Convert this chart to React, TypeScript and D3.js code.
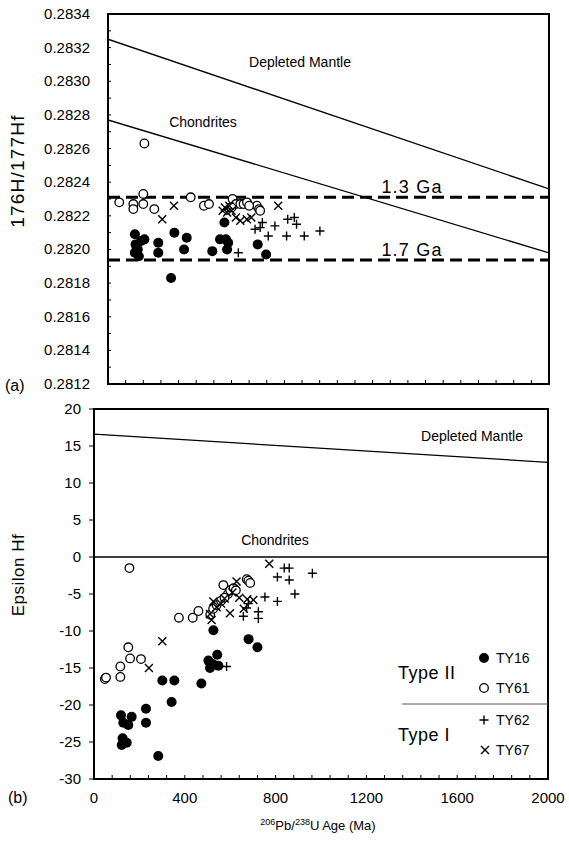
import React from 'react';
import { scaleLinear, line, range } from 'd3';

// ---- data ----
const lineAges = [0, 2000];
const depletedMantleRatio = [0.28325, 0.28236];
const chondriteRatio = [0.28277, 0.28198];
const depletedMantleEps = [16.6, 12.8];
const chondriteEps = [0, 0];
const modelAgeRatios = [0.28231, 0.281937];
const modelAgeLabels = ['1.3 Ga', '1.7 Ga'];

const ratioTicks = [0.2812, 0.2814, 0.2816, 0.2818, 0.282, 0.2822, 0.2824, 0.2826, 0.2828, 0.283, 0.2832, 0.2834];
const epsTicks = [20, 15, 10, 5, 0, -5, -10, -15, -20, -25, -30];
const ageTicks = [0, 400, 800, 1200, 1600, 2000];

const topTY16 = [[122, 0.28209], [125, 0.28203], [122, 0.28198], [135, 0.282], [140, 0.28196], [150, 0.28205], [165, 0.28206], [130, 0.28201],
  [228, 0.28204], [228, 0.28198], [286, 0.28183], [301, 0.2821], [345, 0.282], [357, 0.28207], [473, 0.28199], [508, 0.28206],
  [528, 0.28216], [535, 0.28206], [545, 0.28204], [540, 0.282], [679, 0.28203], [717, 0.28197]];
const topTY61 = [[51, 0.28228], [115, 0.28227], [115, 0.28224], [160, 0.28233], [160, 0.28227], [165, 0.28263], [210, 0.28224],
  [375, 0.28231], [435, 0.28226], [458, 0.28227], [565, 0.2823], [580, 0.28227], [600, 0.28227], [615, 0.28227], [630, 0.28228],
  [675, 0.28226], [685, 0.28224], [690, 0.28223], [560, 0.28225], [640, 0.28226]];
const topTY62 = [[591, 0.28198], [667, 0.28212], [690, 0.28213], [727, 0.28208], [757, 0.28214], [810, 0.28208], [815, 0.28218],
  [845, 0.28219], [855, 0.28215], [890, 0.28208], [961, 0.28211], [700, 0.28216]];
const topTY67 = [[246, 0.28218], [299, 0.28226], [520, 0.28223], [530, 0.28225], [550, 0.28226], [560, 0.28223], [580, 0.28219],
  [600, 0.28217], [630, 0.28218], [650, 0.28219], [772, 0.28226], [540, 0.28222]];

const botTY16 = [[119, -21.4], [129, -22.4], [151, -22.7], [166, -21.6], [126, -24.5], [122, -25.4], [144, -25.1], [229, -20.5],
  [229, -22.4], [283, -26.9], [301, -16.7], [354, -16.7], [342, -19.6], [473, -17.1], [504, -14.0], [511, -15.0], [526, -9.9],
  [543, -13.2], [548, -14.7], [525, -14.5], [681, -11.1], [720, -12.2]];
const botTY61 = [[48, -16.5], [53, -16.3], [116, -16.2], [116, -14.8], [151, -12.2], [156, -1.5], [159, -13.7], [207, -13.8],
  [374, -8.2], [435, -8.2], [460, -7.3], [512, -7.8], [525, -7.0], [540, -6.5], [560, -5.9], [570, -3.8], [590, -5.0], [600, -4.5],
  [615, -4.2], [625, -4.5], [673, -3.0], [680, -3.2], [688, -3.5], [575, -5.5]];
const botTY62 = [[584, -14.8], [658, -8.0], [672, -6.9], [680, -6.3], [724, -7.4], [724, -8.3], [753, -5.4], [808, -2.7],
  [808, -6.0], [838, -1.5], [860, -1.5], [860, -3.1], [885, -5.0], [962, -2.2]];
const botTY67 = [[242, -15.0], [301, -11.4], [511, -7.7], [518, -8.5], [526, -6.0], [540, -6.8], [560, -6.3], [575, -5.6],
  [599, -7.6], [610, -4.8], [628, -3.3], [640, -5.5], [675, -5.7], [702, -5.8], [772, -0.9], [660, -7.0]];

const FONT = 'Liberation Sans, Arial, sans-serif';

// ---- layout ----
const top = { x0: 108, x1: 549, y0: 14, y1: 384 };
const bot = { x0: 94, x1: 548, y0: 409, y1: 779 };

const xTop = scaleLinear().domain([0, 2000]).range([top.x0, top.x1]);
const yTop = scaleLinear().domain([0.2812, 0.2834]).range([top.y1, top.y0]);
const xBot = scaleLinear().domain([0, 2000]).range([bot.x0, bot.x1]);
const yBot = scaleLinear().domain([-30, 20]).range([bot.y1, bot.y0]);

const Marker = ({ kind, x, y }) => {
  if (kind === 'filled') return <circle cx={x} cy={y} r={5} fill="#000" />;
  if (kind === 'open') return <circle cx={x} cy={y} r={4.3} fill="#fff" stroke="#000" strokeWidth={1.3} />;
  if (kind === 'plus') return <path d={`M${x - 4.5},${y}h9M${x},${y - 4.5}v9`} stroke="#000" strokeWidth={1.4} />;
  return <path d={`M${x - 4},${y - 4}L${x + 4},${y + 4}M${x - 4},${y + 4}L${x + 4},${y - 4}`} stroke="#000" strokeWidth={1.4} />;
};

const Points = ({ data, kind, xs, ys }) => (
  <g>{data.map((d, i) => <Marker key={i} kind={kind} x={xs(d[0])} y={ys(d[1])} />)}</g>
);

const App = () => {
  const topLine = (vals) => line()(lineAges.map((a, i) => [xTop(a), yTop(vals[i])]));
  const botLine = (vals) => line()(lineAges.map((a, i) => [xBot(a), yBot(vals[i])]));
  const minorAges = range(0, 2001, 80);

  return (
    <svg width={569} height={849} style={{ position: 'absolute', left: 0, top: 0, background: '#fff' }} fontFamily={FONT}>
      {/* ---------- panel (a) ---------- */}
      <defs>
        <clipPath id="clipTop"><rect x={top.x0} y={top.y0} width={top.x1 - top.x0} height={top.y1 - top.y0} /></clipPath>
      </defs>
      <g clipPath="url(#clipTop)">
        <path d={topLine(depletedMantleRatio)} stroke="#000" strokeWidth={1.3} fill="none" />
        <path d={topLine(chondriteRatio)} stroke="#000" strokeWidth={1.3} fill="none" />
        {modelAgeRatios.map((r, i) => (
          <line key={i} x1={top.x0} x2={top.x1} y1={yTop(r)} y2={yTop(r)} stroke="#000" strokeWidth={3} strokeDasharray="12 6" />
        ))}
      </g>
      <text x={300} y={67} fontSize={14} textAnchor="middle">Depleted Mantle</text>
      <text x={203} y={127} fontSize={14} textAnchor="middle">Chondrites</text>
      {modelAgeLabels.map((t, i) => (
        <text key={t} x={412} y={yTop(modelAgeRatios[i]) - 4} fontSize={18} letterSpacing={1.2} textAnchor="middle">{t}</text>
      ))}
      <Points data={topTY61} kind="open" xs={xTop} ys={yTop} />
      <Points data={topTY67} kind="cross" xs={xTop} ys={yTop} />
      <Points data={topTY62} kind="plus" xs={xTop} ys={yTop} />
      <Points data={topTY16} kind="filled" xs={xTop} ys={yTop} />
      {ratioTicks.map((t) => (
        <g key={t}>
          <text x={90} y={yTop(t) + 5} fontSize={15} textAnchor="end">{t.toFixed(4)}</text>
        </g>
      ))}
      {range(0.2812, 0.28341, 0.0001).map((t, i) => (
        <line key={i} x1={top.x0} x2={top.x0 + 3} y1={yTop(t)} y2={yTop(t)} stroke="#000" strokeWidth={1} />
      ))}
      {minorAges.map((a) => (
        <line key={a} x1={xTop(a)} x2={xTop(a)} y1={top.y1} y2={top.y1 - 4} stroke="#000" strokeWidth={1} />
      ))}
      <rect x={top.x0} y={top.y0} width={top.x1 - top.x0} height={top.y1 - top.y0} fill="none" stroke="#000" strokeWidth={2} />
      <text x={19} y={171} fontSize={19} letterSpacing={1.2} textAnchor="middle" dominantBaseline="middle"
        transform="rotate(-90,19,171)">176H/177Hf</text>
      <text x={5} y={391} fontSize={16}>(a)</text>

      {/* ---------- panel (b) ---------- */}
      <path d={botLine(depletedMantleEps)} stroke="#000" strokeWidth={1.3} fill="none" />
      <path d={botLine(chondriteEps)} stroke="#000" strokeWidth={1.3} fill="none" />
      <text x={472} y={441} fontSize={14} textAnchor="middle">Depleted Mantle</text>
      <text x={275} y={545} fontSize={14} textAnchor="middle">Chondrites</text>
      <Points data={botTY61} kind="open" xs={xBot} ys={yBot} />
      <Points data={botTY67} kind="cross" xs={xBot} ys={yBot} />
      <Points data={botTY62} kind="plus" xs={xBot} ys={yBot} />
      <Points data={botTY16} kind="filled" xs={xBot} ys={yBot} />
      {epsTicks.map((t) => (
        <g key={t}>
          <line x1={bot.x0 - 5} x2={bot.x0} y1={yBot(t)} y2={yBot(t)} stroke="#000" strokeWidth={1} />
          <text x={81} y={yBot(t) + 5} fontSize={15} textAnchor="end">{t}</text>
        </g>
      ))}
      {minorAges.map((a) => (
        <line key={a} x1={xBot(a)} x2={xBot(a)} y1={bot.y1} y2={bot.y1 - 4} stroke="#000" strokeWidth={1} />
      ))}
      {ageTicks.map((a) => (
        <text key={a} x={xBot(a)} y={803} fontSize={15} textAnchor="middle">{a}</text>
      ))}
      <rect x={bot.x0} y={bot.y0} width={bot.x1 - bot.x0} height={bot.y1 - bot.y0} fill="none" stroke="#000" strokeWidth={2} />
      <text x={20} y={575} fontSize={17} letterSpacing={0.5} textAnchor="middle" dominantBaseline="middle"
        transform="rotate(-90,20,575)">Epsilon Hf</text>
      <text x={8} y={803} fontSize={16}>(b)</text>
      <text x={318} y={830} fontSize={13} textAnchor="middle">
        <tspan fontSize={9} dy={-5}>206</tspan><tspan dy={5}>Pb/</tspan><tspan fontSize={9} dy={-5}>238</tspan><tspan dy={5}>U Age (Ma)</tspan>
      </text>

      {/* legend */}
      <text x={398} y={679} fontSize={18} letterSpacing={0.5}>Type II</text>
      <text x={398} y={741} fontSize={18} letterSpacing={0.5}>Type I</text>
      <Marker kind="filled" x={484} y={658} />
      <Marker kind="open" x={484} y={688} />
      <Marker kind="plus" x={484} y={720} />
      <Marker kind="cross" x={485} y={750} />
      {['TY16', 'TY61', 'TY62', 'TY67'].map((t, i) => (
        <text key={t} x={496} y={[663, 693, 725, 755][i]} fontSize={14}>{t}</text>
      ))}
      <line x1={402} x2={548} y1={704} y2={704} stroke="#555" strokeWidth={1} />
    </svg>
  );
};

export default App;
